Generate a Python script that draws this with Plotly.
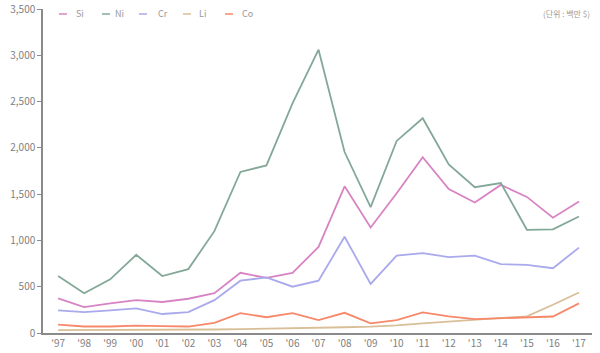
import plotly.graph_objects as go

years = ["'97", "'98", "'99", "'00", "'01", "'02", "'03", "'04", "'05", "'06",
         "'07", "'08", "'09", "'10", "'11", "'12", "'13", "'14", "'15", "'16", "'17"]
si = [375, 280, 320, 355, 335, 370, 430, 650, 595, 650, 930, 1585, 1140, 1510, 1900, 1555, 1410, 1600, 1470, 1245, 1420]
ni = [615, 430, 580, 845, 615, 690, 1100, 1740, 1810, 2480, 3060, 1955, 1360, 2075, 2320, 1820, 1575, 1620, 1115, 1120, 1258]
cr = [245, 225, 245, 265, 205, 225, 355, 565, 600, 500, 565, 1040, 530, 835, 862, 820, 835, 745, 735, 700, 922]
li = [30, 30, 30, 32, 33, 35, 38, 42, 45, 50, 58, 62, 68, 82, 105, 125, 138, 160, 180, 305, 438]
co = [90, 70, 70, 80, 75, 70, 110, 215, 170, 215, 140, 218, 105, 140, 222, 180, 150, 162, 170, 178, 320]

names = ["Si", "Ni", "Cr", "Li", "Co"]
series = [si, ni, cr, li, co]
colors = ["#d884c4", "#84a898", "#a9a9ec", "#d8bf98", "#f7896a"]
legend_px = [(59, 74), (102, 113), (139, 156), (183, 197), (225, 240)]

W, H = 600, 353
L, R, T, B = 43, 8, 9, 20
pw = W - L - R

xs = list(range(len(years)))
fig = go.Figure()
for n, s, c in zip(names, series, colors):
    fig.add_trace(go.Scatter(x=xs, y=s, mode="lines", name=n,
                             line=dict(color=c, width=1.8), showlegend=False))

def px2paper(px):
    return (px - L) / pw

shapes = []
annotations = []
for (lx, tx), n, c in zip(legend_px, names, colors):
    shapes.append(dict(type="line", xref="paper", yref="paper",
                       x0=px2paper(lx), x1=px2paper(lx + 8),
                       y0=(333 - 14) / 324, y1=(333 - 14) / 324,
                       line=dict(color=c, width=1.5)))
    annotations.append(dict(text=n, xref="paper", yref="paper",
                            x=px2paper(tx), y=(333 - 14) / 324,
                            xanchor="left", yanchor="middle", showarrow=False,
                            font=dict(size=9, color="#999999")))
annotations.append(dict(text="(단위 : 백만 $)", xref="paper", yref="paper",
                        x=px2paper(592), y=(333 - 14) / 324,
                        xanchor="right", yanchor="middle", showarrow=False,
                        font=dict(size=8, color="#999999")))

fig.update_layout(
    width=W, height=H,
    margin=dict(l=L, r=R, t=T, b=B),
    paper_bgcolor="white", plot_bgcolor="white",
    font=dict(family="Noto Sans CJK KR, Noto Sans, sans-serif", color="#777777", size=10),
    shapes=shapes, annotations=annotations,
    xaxis=dict(range=[-0.58, 20.5], tickmode="array", tickvals=xs, ticktext=years,
               showgrid=False, zeroline=False, showline=True, linecolor="#8a8a8a",
               linewidth=1.5, ticks="", automargin=False,
               tickfont=dict(size=10, color="#808080")),
    yaxis=dict(range=[0, 3500], dtick=500, tickformat=",", showgrid=False,
               zeroline=False, showline=True, linecolor="#8a8a8a", linewidth=1.5,
               ticks="outside", ticklen=4, tickcolor="#8a8a8a", automargin=False,
               tickfont=dict(size=10, color="#808080")),
)

fig.write_html("out.html")
